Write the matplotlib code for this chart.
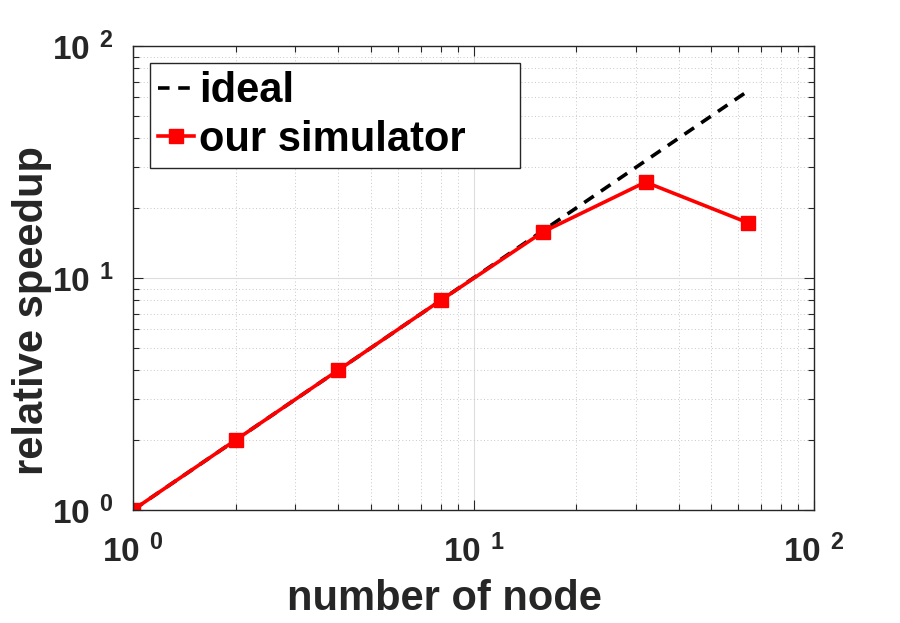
import matplotlib
matplotlib.use("Agg")
import matplotlib.pyplot as plt
from matplotlib.ticker import FixedLocator, FixedFormatter, LogLocator, NullFormatter

plt.rcParams['font.family'] = ['Liberation Sans', 'DejaVu Sans']
plt.rcParams['font.weight'] = 'bold'
plt.rcParams['mathtext.fontset'] = 'custom'
plt.rcParams['mathtext.rm'] = 'Liberation Sans:bold'
plt.rcParams['mathtext.bf'] = 'Liberation Sans:bold'
plt.rcParams['mathtext.it'] = 'Liberation Sans:bold'

# data
nodes = [1, 2, 4, 8, 16, 32, 64]
ideal = [1, 2, 4, 8, 16, 32, 64]
speedup = [1.0, 2.0, 4.0, 8.0, 15.8, 25.9, 17.3]
decades = [1, 10, 100]
decade_labels = [r"$10\ ^{0}$", r"$10\ ^{1}$", r"$10\ ^{2}$"]

txt = '#262626'

fig = plt.figure(figsize=(9, 6.23), dpi=100)
ax = fig.add_axes([133/900, 1 - 510/623, (814-133)/900, (510-46)/623])

ax.plot(nodes, ideal, '--', color='black', lw=2.6, dashes=(3.2, 2.4), label='ideal')
ax.plot(nodes, speedup, '-s', color='red', lw=2.6, ms=10, mec='red', mfc='red',
        label='our simulator    ')

ax.set_xscale('log')
ax.set_yscale('log')
ax.set_xlim(1, 100)
ax.set_ylim(1, 100)

for axis in (ax.xaxis, ax.yaxis):
    axis.set_major_locator(FixedLocator(decades))
    axis.set_major_formatter(FixedFormatter(decade_labels))
    axis.set_minor_locator(LogLocator(base=10, subs=range(2, 10)))
    axis.set_minor_formatter(NullFormatter())

ax.grid(True, which='major', color='#dddddd', lw=0.8, ls='-')
ax.grid(True, which='minor', color='#c8c8c8', lw=0.7, ls=(0, (1, 2.5)))
ax.set_axisbelow(True)

ax.tick_params(which='both', direction='in', top=True, right=True, colors=txt,
               labelsize=24, width=0.8)
ax.tick_params(which='major', length=7)
ax.tick_params(which='minor', length=4)
ax.tick_params(axis='x', pad=18)
ax.tick_params(axis='y', pad=14)
for sp in ax.spines.values():
    sp.set_color(txt)
    sp.set_linewidth(1.0)

ax.set_xlabel('number of node', fontsize=30, fontweight='bold', color=txt, labelpad=7)
ax.set_ylabel('relative speedup', fontsize=30, fontweight='bold', color=txt, labelpad=0)
ax.xaxis.label.set_x(0.458)
ax.yaxis.label.set_y(0.43)

leg = ax.legend(loc='upper left', bbox_to_anchor=(17/681, 1 - 17/464), fontsize=30,
                fancybox=False, framealpha=1, edgecolor=txt, handlelength=0.85,
                handletextpad=0.12, borderpad=0.2, labelspacing=0.2, borderaxespad=0)
leg.get_frame().set_linewidth(1.0)
for t in leg.get_texts():
    t.set_color('black')

fig.savefig('out.png', dpi=100)
